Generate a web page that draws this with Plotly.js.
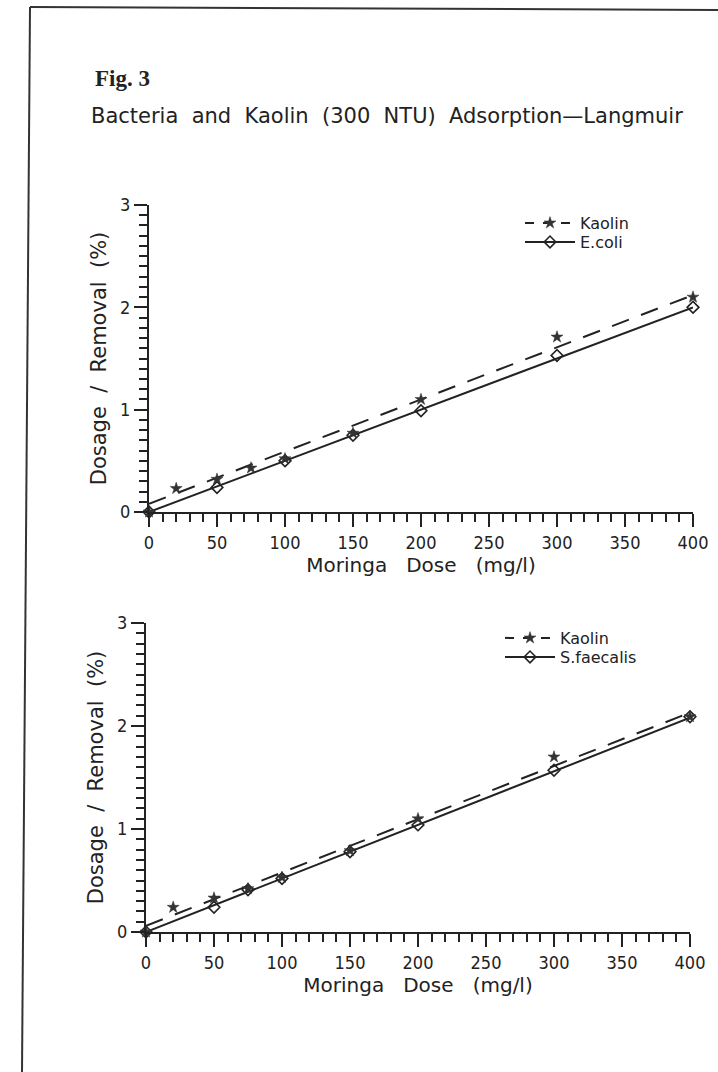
<!DOCTYPE html>
<html>
<head>
<meta charset="utf-8">
<script src="https://cdn.plot.ly/plotly-3.0.1.min.js"></script>
<style>html,body{margin:0;padding:0;background:#fff;}#chart{width:718px;height:1072px;}</style>
</head>
<body>
<div id="chart"></div>
<script>
// ---- data ----
const doseKaolin = [0, 20, 50, 75, 100, 150, 200, 300, 400];
const kaolinTop = [0, 0.23, 0.32, 0.43, 0.52, 0.77, 1.10, 1.71, 2.10];
const doseEcoli = [0, 50, 100, 150, 200, 300, 400];
const ecoli = [0, 0.24, 0.50, 0.75, 0.99, 1.53, 2.00];
const fitX = [0, 400];
const kaolinTopFit = [0.08, 2.12];
const ecoliFit = [0, 2.00];

const kaolinBottom = [0, 0.24, 0.33, 0.42, 0.53, 0.79, 1.10, 1.70, 2.09];
const doseSfaecalis = [0, 50, 75, 100, 150, 200, 300, 400];
const sfaecalis = [0, 0.24, 0.41, 0.52, 0.78, 1.04, 1.57, 2.09];
const kaolinBottomFit = [0.06, 2.13];
const sfaecalisFit = [0, 2.08];

const xTickVals = [0, 50, 100, 150, 200, 250, 300, 350, 400];
const yTickVals = [0, 1, 2, 3];

const ink = '#222222';
const fontC = 'DejaVu Sans Condensed, DejaVu Sans, sans-serif';
const fontW = 'DejaVu Sans, sans-serif';
const W = 718, H = 1072;
const px = v => v / W;
const py = v => 1 - v / H;

const starMarker = {symbol: 'star', size: 9, color: '#333333', line: {color: '#333333', width: 0.5}};
const diamondMarker = {symbol: 'diamond-open', size: 9, color: ink, line: {color: ink, width: 1.6}};
const dashLine = {color: ink, width: 2, dash: '18px,13px'};
const solidLine = {color: ink, width: 2};

function block(xa, ya, legK, legB, kx, ky, bName, bx, by, kFit, bFit) {
  return [
    {x: fitX, y: kFit, xaxis: xa, yaxis: ya, mode: 'lines', line: dashLine, showlegend: false, hoverinfo: 'skip'},
    {x: fitX, y: bFit, xaxis: xa, yaxis: ya, mode: 'lines', line: solidLine, showlegend: false, hoverinfo: 'skip'},
    {x: bx, y: by, xaxis: xa, yaxis: ya, mode: 'markers', marker: diamondMarker, showlegend: false, cliponaxis: false},
    {x: kx, y: ky, xaxis: xa, yaxis: ya, mode: 'markers', marker: starMarker, showlegend: false, cliponaxis: false},
    {x: [null], y: [null], xaxis: xa, yaxis: ya, mode: 'lines+markers', name: 'Kaolin', legend: legK,
     marker: starMarker, line: {color: ink, width: 2, dash: 'dash'}},
    {x: [null], y: [null], xaxis: xa, yaxis: ya, mode: 'lines+markers', name: bName, legend: legB,
     marker: diamondMarker, line: solidLine}
  ];
}

const traces = [].concat(
  block('x', 'y', 'legend', 'legend2', doseKaolin, kaolinTop, 'E.coli', doseEcoli, ecoli, kaolinTopFit, ecoliFit),
  block('x2', 'y2', 'legend3', 'legend4', doseKaolin, kaolinBottom, 'S.faecalis', doseSfaecalis, sfaecalis, kaolinBottomFit, sfaecalisFit)
);

function xAxis(domain, anchor) {
  return {
    domain: domain, anchor: anchor, range: [0, 400], showgrid: false, zeroline: false,
    showline: true, linecolor: ink, linewidth: 2,
    tickmode: 'array', tickvals: xTickVals, ticks: 'outside', ticklen: 13, tickwidth: 2, tickcolor: ink,
    minor: {dtick: 10, ticks: 'outside', ticklen: 8, tickwidth: 2, tickcolor: ink, showgrid: false},
    tickfont: {family: fontC, size: 18, color: ink},
    title: {text: 'Moringa\u00a0\u00a0\u00a0Dose\u00a0\u00a0\u00a0(mg/l)', font: {family: fontW, size: 20, color: ink}, standoff: 6},
    fixedrange: true
  };
}
function yAxis(domain, anchor) {
  return {
    domain: domain, anchor: anchor, range: [0, 3], showgrid: false, zeroline: false,
    showline: true, linecolor: ink, linewidth: 2,
    tickmode: 'array', tickvals: yTickVals, ticks: 'outside', ticklen: 13, tickwidth: 2, tickcolor: ink,
    minor: {dtick: 0.1, ticks: 'outside', ticklen: 8, tickwidth: 2, tickcolor: ink, showgrid: false},
    tickfont: {family: fontC, size: 18, color: ink},
    title: {text: 'Dosage\u00a0\u00a0/\u00a0\u00a0Removal\u00a0\u00a0(%)', font: {family: fontW, size: 21, color: ink}, standoff: 8},
    fixedrange: true
  };
}

function leg(x, yTop) {
  return {x: px(x), y: py(yTop), xanchor: 'left', yanchor: 'top', bgcolor: 'rgba(0,0,0,0)',
          font: {family: fontW, size: 16, color: ink}, itemwidth: 50, tracegroupgap: 0};
}

const layout = {
  width: W, height: H,
  margin: {l: 0, r: 0, t: 0, b: 0},
  paper_bgcolor: '#ffffff', plot_bgcolor: 'rgba(0,0,0,0)',
  showlegend: true,
  xaxis: xAxis([px(149), px(693)], 'y'),
  yaxis: yAxis([py(512), py(205)], 'x'),
  xaxis2: xAxis([px(146), px(690)], 'y2'),
  yaxis2: yAxis([py(932), py(623)], 'x2'),
  legend: leg(520, 206),
  legend2: leg(520, 225),
  legend3: leg(500, 621),
  legend4: leg(500, 640),
  annotations: [
    {xref: 'paper', yref: 'paper', x: px(93), y: py(93), xanchor: 'left', yanchor: 'bottom', showarrow: false,
     text: '<b>Fig. 3</b>', font: {family: 'Liberation Serif, Times New Roman, serif', size: 23, color: ink}},
    {xref: 'paper', yref: 'paper', x: px(89), y: py(116), xanchor: 'left', yanchor: 'middle', showarrow: false,
     text: 'Bacteria\u00a0\u00a0and\u00a0\u00a0Kaolin\u00a0\u00a0(300\u00a0\u00a0NTU)\u00a0\u00a0Adsorption\u2014Langmuir',
     font: {family: fontW, size: 21, color: ink}}
  ],
  shapes: [
    {type: 'line', xref: 'paper', yref: 'paper', x0: px(30), y0: py(7), x1: px(718), y1: py(10), line: {color: '#333', width: 2}},
    {type: 'line', xref: 'paper', yref: 'paper', x0: px(30), y0: py(7), x1: px(22), y1: py(1072), line: {color: '#333', width: 2}}
  ]
};

Plotly.newPlot('chart', traces, layout, {displayModeBar: false, staticPlot: true});
</script>
</body>
</html>
